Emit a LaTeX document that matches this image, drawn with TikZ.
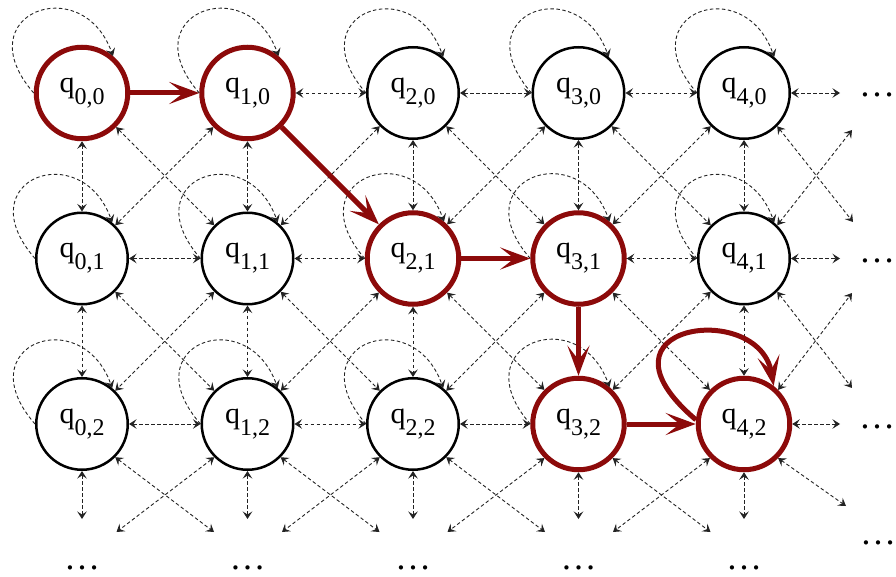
\documentclass[tikz,border=0pt]{standalone}
\usepackage{fontspec}
\setmainfont{Liberation Serif}
\usetikzlibrary{arrows.meta}
\definecolor{qred}{RGB}{140,10,10}
\definecolor{dgray}{RGB}{35,35,35}
\newcommand\qlab[2]{q\raisebox{-12pt}{\fontsize{24}{24}\selectfont #1,#2}}
\tikzset{
  st/.style={circle, draw=black, line width=2.5pt, minimum size=91.5pt, inner sep=0pt, font=\rmfamily\fontsize{30}{30}\selectfont},
  hot/.style={st, draw=qred, line width=5pt},
  dtip/.tip={Stealth[length=7.5pt,width=9.5pt,inset=3pt]},
  dsh/.style={draw=dgray, line width=0.9pt, dash pattern=on 3.5pt off 2.5pt, {dtip}-{dtip}},
  dshone/.style={draw=dgray, line width=0.9pt, dash pattern=on 3.5pt off 2.5pt, -{dtip}},
  redarr/.style={draw=qred, line width=5pt, -{Stealth[length=30pt,width=22pt,inset=14pt]}},
  dotsnode/.style={anchor=base, font=\rmfamily\fontsize{36}{36}\selectfont, inner sep=0pt},
}
\begin{document}
\begin{tikzpicture}[x=1pt,y=1pt]
\useasboundingbox (0,0) rectangle (896,576);
% states
\foreach \i/\j/\s in {0/0/hot,1/0/hot,2/0/st,3/0/st,4/0/st,
                      0/1/st,1/1/st,2/1/hot,3/1/hot,4/1/st,
                      0/2/st,1/2/st,2/2/st,3/2/hot,4/2/hot}
  \node[\s] (q-\i-\j) at ({82+165.5*\i},{483-165.5*\j}) {\qlab{\i}{\j}};
% free ends
\coordinate (rh-0) at (840,483);
\coordinate (rh-1) at (840,317.5);
\coordinate (rh-2) at (840,152);
\coordinate (rd-0-se) at (853,354);
\coordinate (rd-1-ne) at (852,446);
\coordinate (rd-1-se) at (852,188);
\coordinate (rd-2-ne) at (852,283);
\coordinate (rd-2-se) at (846,70);
\foreach \i in {0,...,4} {
  \coordinate (bv-\i) at ({82+165.5*\i},57);
  \coordinate (bse-\i) at ({82+165.5*\i+132},44);
  \coordinate (bsw-\i) at ({82+165.5*\i-131},44);
}
% horizontal dashed
\foreach \a/\b/\j in {1/2/0,2/3/0,3/4/0,0/1/1,1/2/1,3/4/1,0/1/2,1/2/2,2/3/2}
  \draw[dsh] (q-\a-\j.east) -- (q-\b-\j.west);
% vertical dashed
\foreach \i/\a/\b in {0/0/1,1/0/1,2/0/1,3/0/1,4/0/1,0/1/2,1/1/2,2/1/2,4/1/2}
  \draw[dsh] (q-\i-\a.south) -- (q-\i-\b.north);
% diagonal SE
\foreach \a/\b/\c/\d in {0/0/1/1,2/0/3/1,3/0/4/1,0/1/1/2,1/1/2/2,2/1/3/2,3/1/4/2}
  \draw[dsh] (q-\a-\b.-45) -- (q-\c-\d.135);
% diagonal SW
\foreach \a/\b/\c/\d in {1/0/0/1,2/0/1/1,3/0/2/1,4/0/3/1,1/1/0/2,2/1/1/2,3/1/2/2,4/1/3/2}
  \draw[dsh] (q-\a-\b.-135) -- (q-\c-\d.45);
% self loops
\foreach \i/\j in {0/0,1/0,2/0,3/0,4/0,0/1,1/1,2/1,3/1,4/1,0/2,1/2,2/2,3/2}
  \draw[dshone] (q-\i-\j.180) .. controls +(-69,79) and +(-31,86) .. (q-\i-\j.50);
% right free ends
\foreach \j in {0,1,2}
  \draw[dsh] (q-4-\j.east) -- (rh-\j);
\draw[dsh] (q-4-0.-45) -- (rd-0-se);
\draw[dsh] (q-4-1.45) -- (rd-1-ne);
\draw[dsh] (q-4-1.-45) -- (rd-1-se);
\draw[dsh] (q-4-2.45) -- (rd-2-ne);
\draw[dsh] (q-4-2.-45) -- (rd-2-se);
% bottom free ends
\foreach \i in {0,...,4} {
  \draw[dsh] (q-\i-2.south) -- (bv-\i);
}
\foreach \i in {0,...,3}
  \draw[dsh] (q-\i-2.-45) -- (bse-\i);
\foreach \i in {1,...,4}
  \draw[dsh] (q-\i-2.-135) -- (bsw-\i);
% red path
\draw[redarr] (q-0-0.east) -- (q-1-0.west);
\draw[redarr] (q-1-0.-45) -- (q-2-1.135);
\draw[redarr] (q-2-1.east) -- (q-3-1.west);
\draw[redarr] (q-3-1.south) -- (q-3-2.north);
\draw[redarr] (q-3-2.east) -- (q-4-2.west);
\draw[redarr] (q-4-2.175) .. controls +(-113,96) and +(-15,86) .. (q-4-2.52);
% dots
\foreach \j in {0,1,2}
  \node[dotsnode] (rdots-\j) at (877,{483-165.5*\j-4}) {…};
\node[dotsnode] (brdots) at (878,32) {…};
\foreach \i in {0,...,4}
  \node[dotsnode] (bdots-\i) at ({82+165.5*\i},7) {…};
\end{tikzpicture}
\end{document}
